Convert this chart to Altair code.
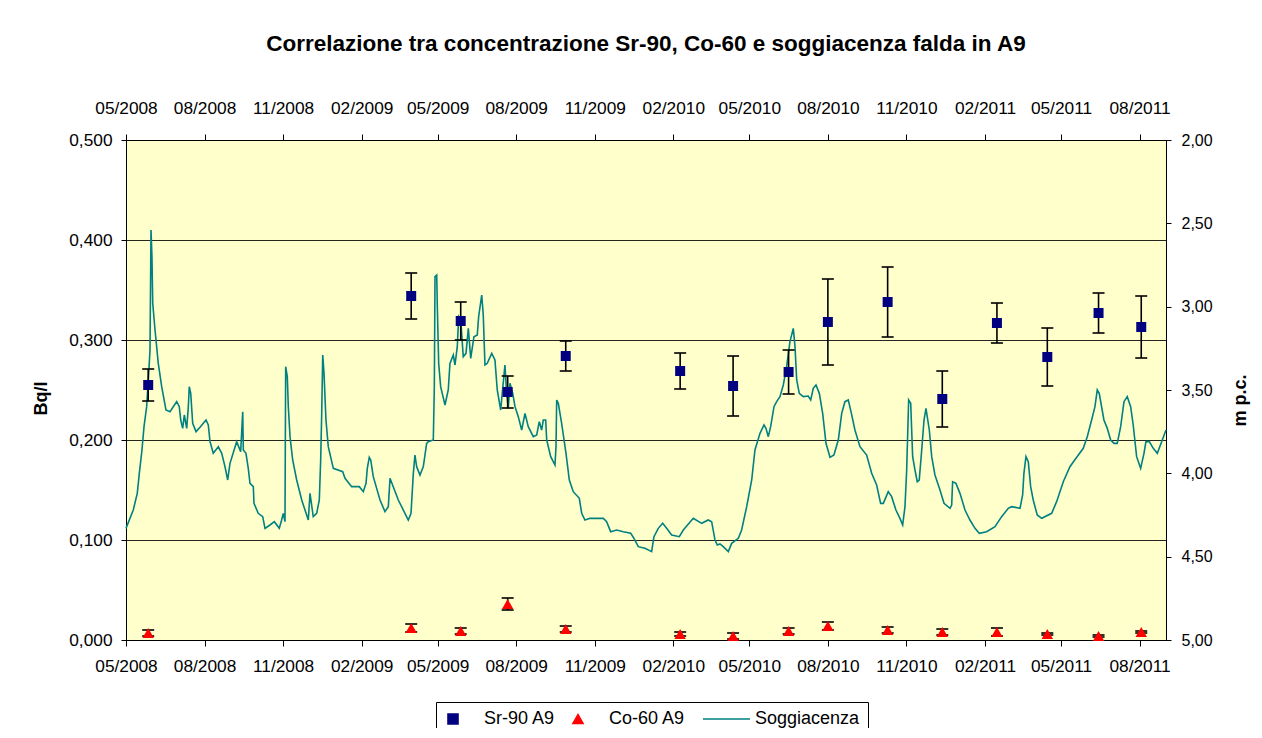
import altair as alt
import pandas as pd

FONT = "Liberation Sans"

title_text = "Correlazione tra concentrazione Sr-90, Co-60 e soggiacenza falda in A9"
series_names = ["Sr-90 A9", "Co-60 A9", "Soggiacenza"]
series_colors = ["#000080", "#FF0000", "#008080"]
# legend glyphs: square, triangle, and a long horizontal stroke for the line series
series_shapes = ["square", "triangle-up", "M-4.2,0L5.2,0"]

# sampling campaigns
sample_dates = ["2008-05-27", "2009-03-31", "2009-05-28", "2009-07-22", "2009-09-28",
                "2010-02-09", "2010-04-12", "2010-06-16", "2010-08-01", "2010-10-10",
                "2010-12-13", "2011-02-15", "2011-04-15", "2011-06-14", "2011-08-03"]
sr90 = [0.255, 0.344, 0.319, 0.248, 0.284, 0.269, 0.254, 0.268, 0.318, 0.338,
        0.241, 0.317, 0.283, 0.327, 0.313]
sr90_err = [0.016, 0.023, 0.019, 0.016, 0.015, 0.018, 0.030, 0.022, 0.043, 0.035,
            0.028, 0.020, 0.029, 0.020, 0.031]
co60 = [0.007, 0.012, 0.009, 0.036, 0.011, 0.006, 0.004, 0.009, 0.014, 0.010,
        0.008, 0.008, 0.006, 0.004, 0.008]
co60_err = [0.003, 0.004, 0.003, 0.006, 0.003, 0.002, 0.003, 0.003, 0.004, 0.003,
            0.003, 0.004, 0.001, 0.001, 0.001]

# groundwater depth (m below ground level), days since sogg_start
sogg_start = "2008-05-01"
sogg_day = [
    0, 8.5, 13.2, 15.6, 18.7, 21.1, 24.2, 26.6, 28.1, 29.3,
    30.4, 31.3, 34.0, 37.8, 41.8, 46.8, 51.5, 59.4, 62.4, 64.1,
    66.4, 68.3, 71.1, 73.0, 74.1, 75.8, 78.1, 82.0, 86.7, 93.7,
    96.4, 98.4, 102.2, 108.1, 112.1, 115.9, 119.1, 121.8, 129.6, 134.3,
    136.7, 137.4, 140.5, 143.2, 145.2, 149.1, 149.9, 154.9, 160.1, 162.8,
    168.6, 173.7, 179.5, 182.3, 184.2, 186.2, 187.0, 188.9, 190.1, 192.1,
    195.2, 199.9, 205.8, 213.5, 215.5, 219.3, 223.3, 226.4, 228.0, 229.2,
    230.4, 231.9, 234.2, 236.9, 242.8, 253.8, 256.5, 264.3, 273.2, 277.9,
    281.1, 282.6, 284.9, 286.6, 289.6, 297.5,
    303.3, 307.2, 309.2, 313.0,
    318.9, 326.7, 330.6, 333.8, 336.5, 338.4, 340.4, 344.3, 348.2, 352.1,
    354.0, 359.9, 361.1, 361.9, 363.9, 364.6, 366.2, 368.5, 373.6, 377.4,
    379.4, 383.3, 385.3, 388.0, 389.6, 392.0, 395.0, 398.2, 400.9, 403.7,
    407.5, 411.4, 413.0, 416.6, 418.4, 420.4, 423.1, 428.3, 432.1, 434.8,
    438.8, 443.8, 445.8, 447.7, 449.7, 452.9, 455.6, 459.4, 463.4, 467.3,
    471.1, 477.0, 481.0, 484.0, 486.8, 488.7, 491.5, 492.7, 497.4, 502.4,
    503.6, 504.4, 506.3, 510.2, 515.3, 519.2, 523.8, 530.9, 533.7, 537.5,
    543.4, 559.0, 562.9, 567.6, 574.7, 582.4, 591.1, 594.9, 600.0, 607.8,
    615.6, 618.3, 623.4, 628.5, 633.2, 639.1, 648.0, 652.7, 664.4, 674.2,
    681.9, 685.9, 689.8, 692.5, 695.6, 699.5, 705.4, 709.3, 717.1, 721.0,
    726.9, 732.8, 736.6, 742.5, 747.2, 749.5, 752.2, 755.0, 758.9, 762.0,
    765.9, 769.8, 773.7, 777.6, 781.5, 783.5, 785.5, 788.5, 793.2, 799.0,
    801.9, 804.9, 808.1, 812.0, 815.9, 819.8, 824.5, 829.1, 834.2, 838.2,
    842.0, 845.9, 849.1, 853.7, 859.6, 867.4, 873.3, 879.1, 883.8, 886.9,
    892.7, 896.7, 901.7, 906.4, 909.6, 912.3, 914.3, 916.6, 919.0, 921.3,
    924.0, 926.7, 929.0, 931.9, 934.6, 936.9, 940.8, 943.6, 947.4, 953.3,
    958.0, 965.0, 967.0, 968.1, 972.0, 976.7, 982.6, 988.4, 994.3, 999.3,
    1007.9, 1017.7, 1025.5, 1033.3, 1037.2, 1047.0, 1050.1, 1051.6, 1054.0, 1056.7,
    1059.5, 1062.5, 1067.2, 1072.4, 1084.1, 1089.9, 1097.7, 1105.5, 1113.4, 1121.1,
    1125.8, 1130.9, 1134.8, 1137.5, 1139.8, 1145.3, 1149.2, 1153.2, 1157.1, 1160.9,
    1164.9, 1168.8, 1172.6, 1176.6, 1179.6, 1183.6, 1188.3, 1192.2, 1194.5, 1198.4,
    1203.1, 1207.8, 1212.9, 1218,
]
sogg_depth = [
    4.330, 4.220, 4.120, 4.000, 3.860, 3.720, 3.600, 3.400, 3.260, 2.540,
    2.700, 2.980, 3.140, 3.340, 3.480, 3.620, 3.630, 3.570, 3.600, 3.680,
    3.730, 3.650, 3.730, 3.600, 3.480, 3.520, 3.700, 3.750, 3.724, 3.680,
    3.710, 3.810, 3.880, 3.840, 3.880, 3.960, 4.040, 3.940, 3.810, 3.870,
    3.630, 3.860, 3.880, 3.970, 4.060, 4.080, 4.180, 4.240, 4.260, 4.330,
    4.310, 4.290, 4.330, 4.280, 4.240, 4.290, 3.360, 3.420, 3.600, 3.780,
    3.920, 4.040, 4.160, 4.280, 4.120, 4.260, 4.240, 4.160, 3.920, 3.640,
    3.290, 3.400, 3.680, 3.840, 3.970, 3.990, 4.030, 4.080, 4.080, 4.110,
    4.060, 3.970, 3.904, 3.920, 4.020, 4.160,
    4.230, 4.200, 4.030, 4.080,
    4.160, 4.240, 4.280, 4.240, 4.000, 3.890, 3.960, 4.010, 3.960, 3.820,
    3.810, 3.800, 3.480, 2.820, 2.810, 3.000, 3.340, 3.480, 3.590, 3.500,
    3.340, 3.290, 3.350, 3.240, 3.060, 3.080, 3.300, 3.280, 3.130, 3.310,
    3.180, 3.170, 3.060, 2.930, 3.050, 3.350, 3.340, 3.280, 3.320, 3.500,
    3.620, 3.350, 3.520, 3.610, 3.460, 3.520, 3.600, 3.660, 3.740, 3.640,
    3.720, 3.780, 3.770, 3.690, 3.740, 3.680, 3.680, 3.800, 3.900, 3.950,
    3.840, 3.560, 3.580, 3.700, 3.880, 4.040, 4.110, 4.150, 4.240, 4.280,
    4.270, 4.270, 4.290, 4.350, 4.340, 4.350, 4.360, 4.390, 4.440, 4.450,
    4.470, 4.380, 4.330, 4.300, 4.330, 4.370, 4.380, 4.340, 4.270, 4.300,
    4.280, 4.290, 4.400, 4.430, 4.424, 4.440, 4.470, 4.420, 4.390, 4.340,
    4.200, 4.040, 3.860, 3.760, 3.710, 3.730, 3.780, 3.720, 3.600, 3.570,
    3.540, 3.470, 3.360, 3.210, 3.130, 3.240, 3.440, 3.520, 3.540, 3.536,
    3.560, 3.490, 3.470, 3.520, 3.640, 3.820, 3.904, 3.890, 3.800, 3.640,
    3.570, 3.560, 3.630, 3.740, 3.840, 3.890, 4.000, 4.070, 4.180, 4.180,
    4.110, 4.140, 4.220, 4.270, 4.310, 4.200, 3.980, 3.560, 3.580, 3.900,
    3.980, 4.050, 4.040, 3.860, 3.680, 3.610, 3.740, 3.900, 4.010, 4.100,
    4.180, 4.210, 4.190, 4.050, 4.060, 4.120, 4.220, 4.280, 4.330, 4.360,
    4.350, 4.320, 4.260, 4.210, 4.200, 4.210, 4.130, 4.000, 3.900, 3.930,
    4.080, 4.160, 4.250, 4.270, 4.240, 4.170, 4.050, 3.960, 3.904, 3.850,
    3.780, 3.680, 3.600, 3.500, 3.520, 3.680, 3.730, 3.800, 3.820, 3.820,
    3.720, 3.570, 3.540, 3.600, 3.710, 3.900, 3.970, 3.880, 3.810, 3.810,
    3.850, 3.880, 3.810, 3.740,
]

x_ticks = ["2008-05-01", "2008-08-01", "2008-11-01", "2009-02-01", "2009-05-01",
           "2009-08-01", "2009-11-01", "2010-02-01", "2010-05-01", "2010-08-01",
           "2010-11-01", "2011-02-01", "2011-05-01", "2011-08-01"]
x_domain = ["2008-05-01", "2011-09-01"]
bq_ticks = [0.0, 0.1, 0.2, 0.3, 0.4, 0.5]
depth_ticks = [2.0, 2.5, 3.0, 3.5, 4.0, 4.5, 5.0]


def dt(s):
    y, m, d = (int(p) for p in s.split("-"))
    return alt.DateTime(year=y, month=m, date=d, utc=True)


# ---- data tables ----
sr_df = pd.DataFrame({
    "date": sample_dates, "v": sr90,
    "lo": [v - e for v, e in zip(sr90, sr90_err)],
    "hi": [v + e for v, e in zip(sr90, sr90_err)],
    "series": series_names[0],
})
co_df = pd.DataFrame({
    "date": sample_dates, "v": co60,
    "lo": [v - e for v, e in zip(co60, co60_err)],
    "hi": [v + e for v, e in zip(co60, co60_err)],
    "series": series_names[1],
})
n = min(len(sogg_day), len(sogg_depth))
start = pd.Timestamp(sogg_start)
line_df = pd.DataFrame({
    "date": [(start + pd.Timedelta(days=d)).strftime("%Y-%m-%dT%H:%M:%SZ") for d in sogg_day[:n]],
    "depth": sogg_depth[:n],
    "series": series_names[2],
})

# ---- scales / axes ----
xscale = alt.Scale(type="utc", domain=[dt(x_domain[0]), dt(x_domain[1])], nice=False)
common_axis = dict(labelFont=FONT, labelColor="black",
                   domainColor="black", tickColor="black", labelFlush=False,
                   labelOverlap=False, titleFont=FONT, titleFontSize=18,
                   titleFontWeight="bold", titleColor="black")
bottom_axis = alt.Axis(orient="bottom", values=[dt(s) for s in x_ticks],
                       labelExpr="utcFormat(datum.value, '%m/%Y')", grid=False,
                       labelFontSize=17.3, tickSize=6, labelPadding=11, title=None,
                       **common_axis)
top_axis = alt.Axis(orient="top", values=[dt(s) for s in x_ticks],
                    labelExpr="utcFormat(datum.value, '%m/%Y')", grid=False,
                    labelFontSize=17.3, tickSize=6, labelPadding=17, title=None,
                    **common_axis)
left_axis = alt.Axis(orient="left", values=bq_ticks,
                     labelExpr="replace(format(datum.value, '.3f'), '.', ',')",
                     grid=True, gridColor="#000000", gridWidth=1, gridOpacity=0.85,
                     labelFontSize=17.3, tickSize=5, labelPadding=9, title="Bq/l",
                     titleX=-85, titleY=258, titleAngle=270, titleAlign="center",
                     titleBaseline="middle", **common_axis)
right_axis = alt.Axis(orient="right", values=depth_ticks,
                      labelExpr="replace(format(datum.value, '.2f'), '.', ',')",
                      grid=False, labelFontSize=16, tickSize=5, labelPadding=10,
                      title="m p.c.", titleX=74, titleY=260, titleAngle=270,
                      titleAlign="center", titleBaseline="middle", **common_axis)

yleft = alt.Scale(domain=[0, 0.5], nice=False, zero=True)
yright = alt.Scale(domain=[2, 5], nice=False, zero=False, reverse=True)
color_scale = alt.Scale(domain=series_names, range=series_colors)
shape_scale = alt.Scale(domain=series_names, range=series_shapes)

legend = alt.Legend(
    title=None, orient="none", legendX=310, legendY=562, direction="horizontal",
    columns=3, symbolSize=100, symbolStrokeWidth=1.6, labelFont=FONT, labelFontSize=18,
    labelColor="black", labelOffset=22, columnPadding=13, padding=8,
    strokeColor="#000000", fillColor="white", symbolOpacity=1,
)

X = alt.X("date:T", scale=xscale, axis=bottom_axis)
Yv = alt.Y("v:Q", scale=yleft, axis=left_axis)
Ylo = alt.Y("lo:Q", scale=yleft, axis=left_axis)
Yhi = alt.Y("hi:Q", scale=yleft, axis=left_axis)
C = alt.Color("series:N", scale=color_scale, legend=legend)
S = alt.Shape("series:N", scale=shape_scale, legend=legend)


def err_layers(df):
    bar = alt.Chart(df).mark_rule(color="black", strokeWidth=1.6).encode(x=X, y=Ylo, y2="hi:Q")
    cap_hi = alt.Chart(df).mark_tick(color="black", orient="horizontal", size=12,
                                     thickness=1.6, opacity=1).encode(x=X, y=Yhi)
    cap_lo = alt.Chart(df).mark_tick(color="black", orient="horizontal", size=12,
                                     thickness=1.6, opacity=1).encode(x=X, y=Ylo)
    return [bar, cap_hi, cap_lo]


sr_pts = alt.Chart(sr_df).mark_point(filled=True, opacity=1, strokeWidth=0, size=100).encode(
    x=X, y=Yv, color=C, shape=S)
co_pts = alt.Chart(co_df).mark_point(filled=True, opacity=1, strokeWidth=0, size=130).encode(
    x=X, y=Yv, color=C, shape=S)

left = alt.layer(*err_layers(sr_df), sr_pts, *err_layers(co_df), co_pts)

line = alt.Chart(line_df).mark_line(strokeWidth=1.6, opacity=1).encode(
    x=alt.X("date:T", scale=xscale, axis=top_axis),
    y=alt.Y("depth:Q", scale=yright, axis=right_axis),
    color=C,
)

chart = alt.layer(line, left).resolve_scale(y="independent").resolve_axis(
    x="independent", y="independent"
).properties(
    width=1040, height=500,
    title=alt.TitleParams(text=title_text, font=FONT, fontSize=22.5, fontWeight="bold",
                          color="black", anchor="middle", offset=44),
    autosize=alt.AutoSizeParams(type="none"),
    padding={"left": 118, "top": 132, "right": 86, "bottom": 88},
    background="white",
).configure_view(fill="#FFFFCC", stroke="black", strokeWidth=1)

chart.save("out.html", embed_options={"renderer": "svg", "actions": False})
